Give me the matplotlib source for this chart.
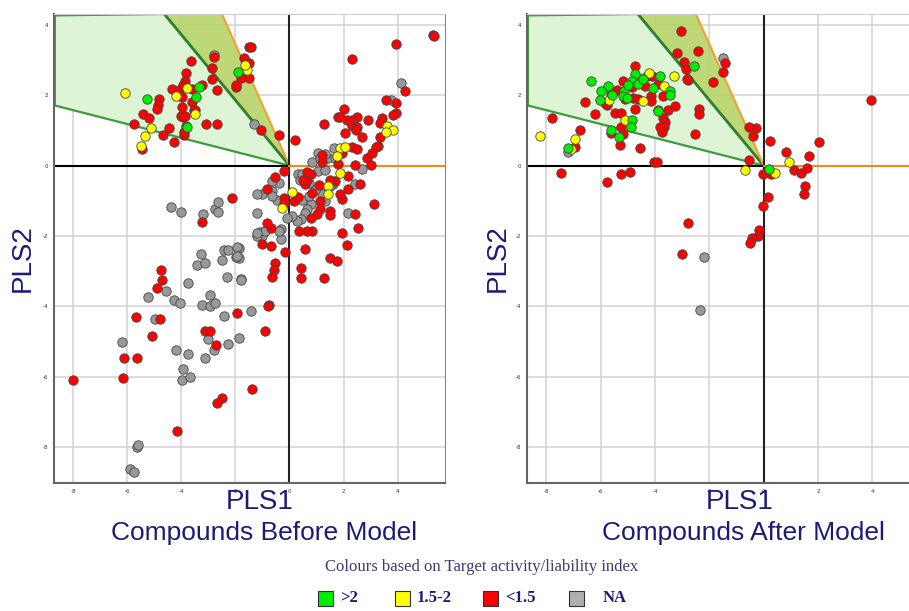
import matplotlib
matplotlib.use("Agg")
import matplotlib.pyplot as plt
from matplotlib.patches import Polygon, Rectangle

# ---- data: PLS scores, before model (left panel) ----
before_red = [
    (-4.81, 1.89), (-4.85, 1.71), (-4.9, 1.6), (-5.41, 1.46), (-5.19, 1.34), (-5.74, 1.17), (-5.44, 0.46),
    (-4.67, 0.86), (-4.44, 1.06), (-4.26, 0.66), (-3.89, 0.86), (-3.89, 0.97), (-3.81, 1.14), (-3.93, 1.37),
    (-3.96, 1.66), (-4.0, 1.4), (-3.85, 1.4), (-4.33, 2.17), (-4.07, 2.14), (-3.96, 1.94), (-3.59, 2.17),
    (-3.59, 1.8), (-3.52, 1.57), (-3.48, 1.57), (-3.81, 2.63), (-3.85, 2.4), (-3.93, 2.3), (-3.63, 2.97),
    (-3.22, 2.29), (-3.07, 1.17), (-2.67, 1.17), (-2.67, 2.14), (-2.85, 2.46), (-2.85, 2.77), (-2.78, 3.09),
    (-1.96, 2.23), (-1.96, 2.3), (-1.78, 2.49), (-1.7, 3.06), (-1.48, 2.91), (-1.48, 2.49), (-1.48, 3.37),
    (-1.44, 3.37), (-1.04, 1.0), (-0.37, 0.86), (0.22, 0.74), (1.26, 1.17), (1.78, 1.37),
    (5.3, 3.71), (5.36, 3.69), (3.93, 3.46), (2.33, 3.03), (4.26, 2.11), (3.57, 1.86), (3.93, 1.77),
    (3.93, 1.49), (3.82, 1.43), (3.44, 1.34), (3.33, 1.2), (3.33, 0.8), (3.26, 0.57), (3.19, 0.54),
    (2.89, 1.31), (2.48, 1.37), (2.33, 1.29), (2.11, 1.29), (2.0, 1.6), (1.85, 1.37), (2.3, 1.14),
    (2.5, 1.09), (2.07, 0.94), (2.45, 1.0), (2.7, 0.8), (2.3, 0.54), (2.48, 0.46),
    (-0.52, -0.31), (-0.22, -0.14), (-0.85, -0.66), (-0.19, -0.91), (-0.19, -1.06), (0.15, -1.0),
    (0.3, -0.89), (0.56, -0.51), (0.66, -0.4), (0.81, -0.23), (1.22, 0.09), (1.19, 0.29), (1.93, 0.37),
    (1.78, 0.06), (2.15, -0.29), (2.41, 0.03), (2.85, 0.23), (3.0, 0.03), (3.04, 0.37), (2.59, -0.51),
    (2.15, -0.66), (1.96, -0.94), (1.85, -0.8), (1.67, -0.43), (1.5, -0.4), (1.11, -1.0), (1.11, -1.23),
    (1.0, -1.37), (1.48, -1.29), (1.48, -1.4), (0.81, -1.49), (0.85, -0.77), (1.1, -0.54), (0.5, -0.4),
    (0.66, -0.17),
    (3.11, -1.09), (2.44, -1.37), (2.52, -1.77), (2.11, -2.26), (1.93, -1.91), (1.48, -2.63), (1.74, -2.71),
    (1.26, -3.2), (0.59, -2.37), (0.44, -2.91), (0.44, -3.2), (0.85, -1.86), (0.63, -1.86), (0.37, -1.86),
    (-0.52, -2.77), (-0.59, -2.97), (-0.63, -3.17), (-0.74, -3.97), (-0.15, -2.46), (-1.0, -2.23),
    (-0.7, -2.29), (-0.67, -1.77), (-0.85, -1.63),
    (-2.11, -0.91), (-3.22, -1.6), (-4.74, -2.97), (-4.7, -3.26), (-4.89, -3.49), (-1.93, -4.2),
    (-0.78, -4.0), (-0.89, -4.69), (-5.67, -4.29), (-4.78, -4.37), (-5.07, -4.83), (-3.11, -4.71),
    (-2.93, -4.69), (-2.7, -5.11), (-6.11, -5.46), (-5.63, -5.46), (-6.15, -6.03), (-8.0, -6.09),
    (-1.37, -6.34), (-2.48, -6.6), (-2.67, -6.74), (-4.15, -7.54),
]
before_gray = [
    (-1.33, 1.17), (-2.8, 3.14), (4.11, 2.34), (3.74, 1.86), (1.63, 0.49),
    (-0.37, -0.49), (-0.63, -0.71), (-1.0, -0.8), (-0.48, -0.97), (0.3, -0.23), (0.4, -0.4), (1.04, -0.14),
    (1.33, -0.11), (1.44, 0.23), (2.7, -0.09), (2.41, -0.51), (1.6, -0.51), (1.2, -0.63), (1.2, -0.8),
    (0.81, -1.09), (0.63, -1.23), (0.56, -1.34), (0.44, -1.51), (0.26, -1.57), (0.11, -1.43), (2.15, -1.34),
    (0.48, -0.97), (0.74, -0.86), (0.96, -0.7), (-1.19, -1.34), (-1.1, -1.9), (-1.0, -2.0), (-1.2, -2.0),
    (-0.3, -2.09), (-0.3, -1.79), (-0.11, -1.49), (-0.63, -0.86), (-0.89, -1.86), (-1.85, -2.34),
    (-1.85, -2.63), (-1.78, -3.23), (-1.19, -0.8), (-1.19, -1.91), (1.05, 0.35), (0.85, 0.1),
    (1.11, 0.23), (1.3, 0.34), (1.67, 0.23), (-0.63, -0.43), (0.48, -0.23), (0.74, -0.49), (1.48, -0.57),
    (1.3, -1.0), (-0.37, -1.86),
    (-4.37, -1.17), (-4.0, -1.31), (-3.19, -1.37), (-2.74, -1.23), (-2.63, -1.03), (-2.63, -1.31),
    (-3.26, -2.51), (-3.41, -2.83), (-3.11, -2.77), (-2.48, -2.69), (-2.41, -2.4), (-1.96, -2.6),
    (-2.3, -3.17), (-1.81, -3.26), (-2.26, -2.4), (-1.93, -2.31), (-1.93, -2.57),
    (-4.56, -3.57), (-5.22, -3.74), (-3.74, -3.34), (-4.26, -3.83), (-4.04, -3.91), (-2.93, -3.69),
    (-3.22, -3.97), (-2.93, -4.0), (-2.74, -3.91), (-2.41, -4.26), (-1.44, -4.14), (-4.96, -4.37),
    (-3.0, -4.94), (-1.85, -4.91), (-2.26, -5.06), (-2.81, -5.23), (-6.19, -5.0), (-4.19, -5.23),
    (-3.74, -5.34), (-3.11, -5.46), (-3.93, -5.77), (-3.96, -6.09), (-3.67, -6.0), (-5.63, -8.0),
    (-5.6, -7.95), (-5.89, -8.63), (-5.74, -8.71),
]
before_yellow = [
    (-6.07, 2.06), (-5.11, 1.06), (-5.33, 0.83), (-5.48, 0.57), (-4.2, 1.97), (-3.78, 2.2), (-3.5, 1.46),
    (-1.59, 2.71), (-1.63, 2.86), (3.59, 1.14), (3.81, 1.0), (3.57, 0.97), (1.85, 0.51), (2.07, 0.54),
    (-0.26, -1.2), (0.11, -0.74), (1.74, 0.26), (1.85, -0.2), (1.44, -0.57), (1.41, -0.8),
]
before_green = [(-5.26, 1.89), (-3.78, 1.1), (-3.44, 1.94), (-1.89, 2.66), (-3.33, 2.23)]

# ---- data: PLS scores, after model (right panel) ----
after_red = [
    (-3.05, 3.83), (-3.2, 3.2), (-2.43, 3.26), (-2.94, 2.94), (-2.87, 2.74), (-2.79, 2.43), (-1.88, 2.37),
    (-1.43, 2.91), (-1.51, 2.66), (-4.74, 2.83), (-4.3, 2.54), (-4.12, 2.54), (-5.18, 2.4), (-5.4, 2.14),
    (-4.85, 2.23), (-4.37, 2.26), (-3.9, 2.31), (-3.71, 1.97), (-5.62, 2.03), (-5.77, 1.71), (-5.85, 1.77),
    (-5.1, 1.89), (-4.8, 1.91), (-4.63, 1.89), (-4.15, 1.97), (-4.15, 1.83), (-4.74, 1.6), (-6.58, 1.8),
    (-6.21, 1.46), (-5.48, 1.51), (-5.26, 1.51), (-5.26, 1.11), (-5.18, 0.89), (-5.62, 0.94), (-5.29, 0.6),
    (-3.9, 1.57), (-3.53, 1.57), (-3.27, 1.69), (-3.71, 1.34), (-3.64, 1.23), (-3.68, 1.11), (-3.75, 0.97),
    (-3.82, 1.09), (-2.39, 1.6), (-2.39, 1.46), (-2.54, 0.89), (-7.79, 1.34), (-6.76, 1.0), (-6.95, 0.54),
    (-4.56, 0.49), (-4.04, 0.11), (-3.94, 0.09), (-7.46, -0.2), (-5.77, -0.46), (-5.26, -0.23),
    (-4.93, -0.17), (-0.55, 1.11), (-0.29, 1.06), (-0.4, 0.83), (-0.55, 0.17), (-0.04, -0.23), (0.22, 0.69),
    (0.22, -0.17), (0.26, -0.23), (0.15, -0.89), (-0.04, -1.14), (-0.18, -1.83), (-0.22, -2.0),
    (-0.44, -2.06), (-0.51, -2.2), (0.81, 0.4), (1.1, -0.11), (1.36, -0.2), (1.58, -0.06), (1.65, 0.26),
    (2.02, 0.66), (1.51, -0.57), (1.47, -0.8), (3.93, 1.86), (-2.79, -1.63), (-3.01, -2.51), (-2.83, 2.46),
]
after_green = [
    (-2.57, 2.83), (-6.36, 2.4), (-4.74, 2.6), (-3.82, 2.54), (-4.85, 2.4), (-5.74, 2.26), (-5.15, 2.11),
    (-4.63, 2.31), (-4.08, 2.2), (-3.46, 2.11), (-3.46, 2.0), (-5.99, 2.11), (-5.6, 2.0), (-6.03, 1.86),
    (-5.18, 1.97), (-5.04, 1.91), (-4.85, 1.29), (-4.89, 1.11), (-5.62, 1.0), (-5.33, 0.8), (-3.9, 1.54),
    (-7.2, 0.51), (0.2, -0.1), (-4.45, 2.45), (-5.0, 2.3),
]
after_yellow = [
    (-4.23, 2.63), (-3.31, 2.54), (-4.52, 2.46), (-3.68, 2.26), (-5.7, 1.86), (-4.45, 1.83), (-5.11, 1.29),
    (-8.24, 0.83), (-6.95, 0.77), (-7.1, 0.46), (-0.7, -0.11), (0.4, -0.2), (0.92, 0.11),
]
after_gray = [(-1.51, 3.06), (-7.2, 0.4), (-2.21, -2.6), (-2.35, -4.09)]

# model region (same in both panels)
region_outer = [(-8.68, 4.27), (-4.63, 4.31), (0, 0), (-8.68, 1.71)]
region_core = [(-4.63, 4.31), (-2.5, 4.31), (0, 0)]

ticks = [-8, -6, -4, -2, 0, 2, 4]
legend_labels = [">2", "1.5-2", "<1.5", "NA"]
legend_colors = ["#00ee00", "#ffff00", "#ff0000", "#b0b0b0"]

NAVY = "#1c1c78"
SANS = ["Liberation Sans", "DejaVu Sans"]
SERIF = ["Liberation Serif", "DejaVu Serif"]


def draw_panel(ax, groups):
    ax.set_xlim(-8.71, 5.75)
    ax.set_ylim(-9.02, 4.31)
    ax.set_xticks(ticks)
    ax.set_yticks(ticks)
    ax.set_xticklabels([str(t) for t in ticks], fontsize=4, color="#333333")
    ax.set_yticklabels([str(t) for t in ticks], fontsize=4, color="#333333")
    ax.tick_params(length=0, pad=4)
    ax.grid(True, color="#d2d2d2", lw=1.1)
    ax.set_axisbelow(True)
    for s in ["left", "bottom"]:
        ax.spines[s].set_color("#666666")
        ax.spines[s].set_linewidth(1.5)
    ax.spines["right"].set_color("#888888")
    ax.spines["top"].set_color("#cccccc")

    ax.add_patch(Polygon(region_outer, closed=True, facecolor="#ddf5d5", edgecolor="#3d9a3d",
                         lw=1.6, zorder=1))
    ax.add_patch(Polygon(region_core, closed=True, facecolor="#b8d468", edgecolor="none",
                         alpha=0.9, zorder=1.1))
    ax.plot([region_core[0][0], 0], [region_core[0][1], 0], color="#2f7f2f", lw=2, zorder=1.2)
    ax.plot([region_core[1][0], 0], [region_core[1][1], 0], color="#f0a030", lw=1.5, zorder=1.2)

    ax.axvline(0, color="#222222", lw=1.5, zorder=1.5)
    ax.plot([-8.71, 0], [0, 0], color="black", lw=1.5, zorder=1.5)
    ax.plot([0, 5.75], [0, 0], color="#ef8a1a", lw=1.5, zorder=1.5)

    for pts, col in groups:
        xs = [p[0] for p in pts]
        ys = [p[1] for p in pts]
        ax.scatter(xs, ys, s=46, c=col, edgecolors="#444444", linewidths=0.6, zorder=3)


fig = plt.figure(figsize=(9.09, 6.11), dpi=100)
ax1 = fig.add_axes([0.0594, 0.2095, 0.4301, 0.7676])
ax2 = fig.add_axes([0.5798, 0.2095, 0.4323, 0.7676])

draw_panel(ax1, [(before_gray, "#999999"), (before_red, "#ff0000"),
                 (before_yellow, "#ffff00"), (before_green, "#00ee00")])
draw_panel(ax2, [(after_gray, "#999999"), (after_red, "#ff0000"),
                 (after_yellow, "#ffff00"), (after_green, "#00ee00")])

for x in [0.0252, 0.5478]:
    fig.text(x, 0.578, "PLS2", rotation=90, ha="center", va="center", fontsize=20,
             color=NAVY, family=SANS)
for x, title in [(0.286, "Compounds Before Model"), (0.814, "Compounds After Model")]:
    fig.text(x, 0.178, "PLS1", ha="center", va="center", fontsize=20, color=NAVY, family=SANS)
    fig.text(x + 0.004, 0.128, title, ha="center", va="center", fontsize=19, color=NAVY, family=SANS)

fig.text(0.530, 0.072, "Colours based on Target activity/liability index", ha="center", va="center",
         fontsize=12, color="#3c3c70", family=SERIF)

leg_x = [318, 395, 483, 569]
for px, lab, col in zip(leg_x, legend_labels, legend_colors):
    fig.patches.append(Rectangle((px / 909, 0.009), 15 / 909, 15 / 611, transform=fig.transFigure,
                                 facecolor=col, edgecolor="#333333", lw=0.8))
    off = 34 if lab == "NA" else 22
    fig.text((px + off) / 909, 0.0215, lab, ha="left", va="center", fontsize=12, fontweight="bold",
             color=NAVY, family=SERIF)

fig.savefig("out.png", dpi=100)
